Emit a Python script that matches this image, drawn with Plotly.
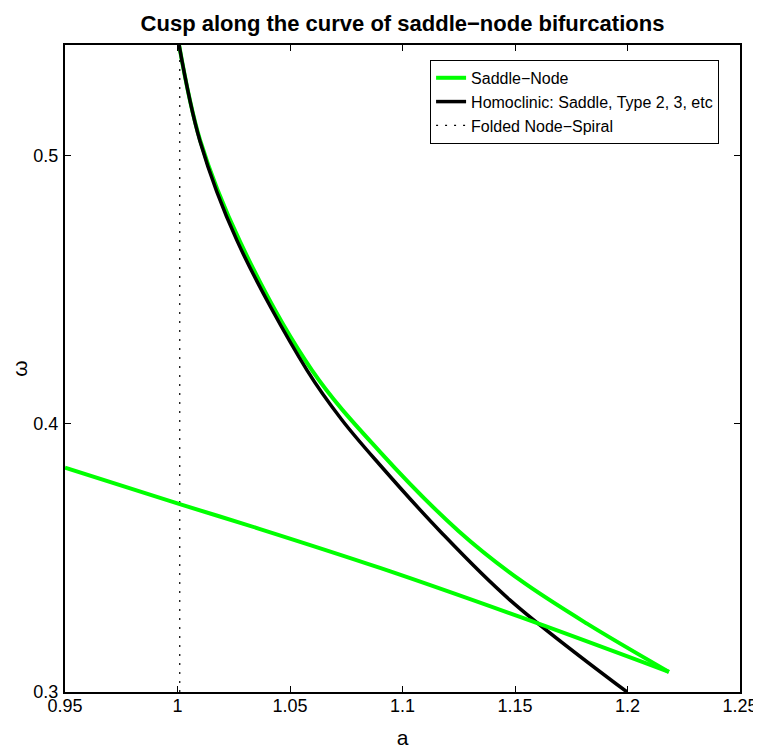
import plotly.graph_objects as go

# Saddle-node curve: upper branch runs into the cusp, lower branch comes back out
sn_upper_a = [1.0007, 1.0100, 1.0278, 1.0598, 1.0900, 1.1250, 1.1522, 1.1820, 1.2184]
sn_upper_w = [0.5414, 0.5060, 0.4680, 0.4200, 0.3896, 0.3600, 0.3418, 0.3255, 0.3075]
sn_lower_a = [1.2184, 1.1522, 1.0900, 1.0367, 1.0010, 0.9500]
sn_lower_w = [0.3075, 0.3280, 0.3463, 0.3608, 0.3701, 0.3837]

# Homoclinic curve
hom_a = [1.0007, 1.0100, 1.0264, 1.0576, 1.0731, 1.0900, 1.1167, 1.1478, 1.1998]
hom_w = [0.5414, 0.5055, 0.4685, 0.4200, 0.4015, 0.3847, 0.3600, 0.3343, 0.3000]

# Folded node-spiral
fns_a = [1.001, 1.001]
fns_w = [0.30, 0.5414]

x_ticks = [0.95, 1.0, 1.05, 1.1, 1.15, 1.2, 1.25]
x_labels = ["0.95", "1", "1.05", "1.1", "1.15", "1.2", "1.25"]
y_ticks = [0.3, 0.4, 0.5]
y_labels = ["0.3", "0.4", "0.5"]

FONT = "Liberation Sans"
green_line = dict(color="#00ff00", width=4, shape="spline", smoothing=1.0)

fig = go.Figure()
fig.add_trace(go.Scatter(x=sn_upper_a, y=sn_upper_w, mode="lines", name="Saddle\u2212Node",
                         legendgroup="sn", line=green_line))
fig.add_trace(go.Scatter(x=hom_a, y=hom_w, mode="lines",
                         name="Homoclinic: Saddle, Type 2, 3, etc",
                         line=dict(color="black", width=3.5, shape="spline", smoothing=1.0)))
fig.add_trace(go.Scatter(x=fns_a, y=fns_w, mode="lines", name="Folded Node\u2212Spiral",
                         line=dict(color="black", width=1.2, dash="2px,7px")))
fig.add_trace(go.Scatter(x=sn_lower_a, y=sn_lower_w, mode="lines", name="Saddle\u2212Node",
                         legendgroup="sn", showlegend=False, line=green_line))

axis_style = dict(showgrid=False, zeroline=False, showline=True, linecolor="black", linewidth=2,
                  mirror="allticks", ticks="inside", ticklen=6, tickcolor="black", tickwidth=1,
                  automargin=False,
                  tickfont=dict(family=FONT, size=18, color="black"))

fig.update_xaxes(range=[0.95, 1.25], tickvals=x_ticks, ticktext=x_labels, ticklabelstandoff=-4,
                 title=dict(text="a", font=dict(family=FONT, size=21, color="black"), standoff=16),
                 **axis_style)
fig.update_yaxes(range=[0.3, 0.5414], tickvals=y_ticks, ticktext=y_labels, ticklabelstandoff=1,
                 title=dict(text="\u03c9", font=dict(family=FONT, size=21, color="black"), standoff=11),
                 **axis_style)

# page body has an 8px margin, so the figure sits 8px right and down
fig.update_layout(
    width=761, height=755,
    margin=dict(l=57, r=29, t=37, b=71),
    plot_bgcolor="white", paper_bgcolor="white",
    title=dict(text="<b>Cusp along the curve of saddle\u2212node bifurcations</b>",
               x=394.5 / 761, xanchor="center", y=1 - 15 / 755, yanchor="middle",
               font=dict(family=FONT, size=22, color="black")),
    legend=dict(x=0.969, y=0.977, xanchor="right", yanchor="top",
                bgcolor="white", bordercolor="black", borderwidth=1,
                font=dict(family=FONT, size=16, color="black"),
                tracegroupgap=0, itemwidth=30, traceorder="normal"),
    showlegend=True,
)

fig.write_html("out.html")
